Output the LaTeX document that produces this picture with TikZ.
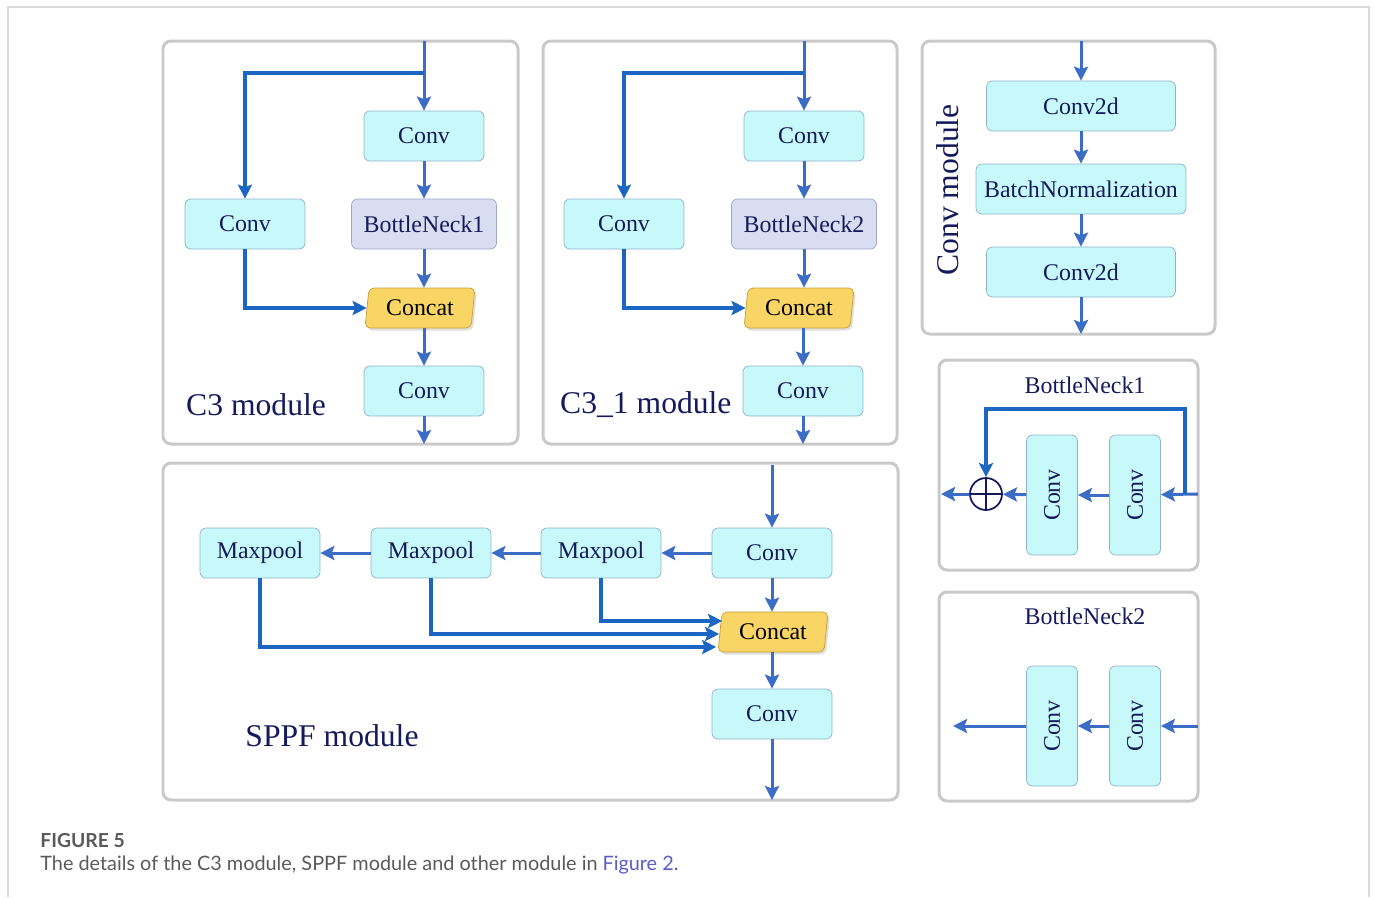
\documentclass[tikz,border=0pt]{standalone}
\usepackage{fontspec}
\setmainfont{Liberation Serif}
\newfontfamily\capfont{Lato}
\usetikzlibrary{arrows.meta,positioning,shapes.geometric,shadows}
\definecolor{navy}{HTML}{141A5C}
\definecolor{cyanfill}{HTML}{C8F9FA}
\definecolor{cyanedge}{HTML}{8FB3C9}
\definecolor{lavfill}{HTML}{D9DDF1}
\definecolor{lavedge}{HTML}{9DA7CB}
\definecolor{gold}{HTML}{F9D566}
\definecolor{goldedge}{HTML}{C79E35}
\definecolor{flowblue}{HTML}{3B6CC6}
\definecolor{skipblue}{HTML}{1A66C2}
\definecolor{panelgray}{HTML}{C9C9C9}
\definecolor{framegray}{HTML}{DADADA}
\definecolor{capgray}{HTML}{5A5A5A}
\definecolor{linkblue}{HTML}{5C5CC8}

\begin{document}
\begin{tikzpicture}[
    x=0.02cm, y=-0.02cm,
    every node/.style={font=\fontsize{13.6}{16}\selectfont, text=navy},
    layer/.style={rectangle, rounded corners=0.12cm, draw=cyanedge, fill=cyanfill,
        minimum width=2.4cm, minimum height=1cm, inner sep=0pt},
    neck/.style={layer, draw=lavedge, fill=lavfill, minimum width=2.9cm},
    vlayer/.style={layer, minimum width=2.4cm, minimum height=1.02cm, rotate=90},
    concat/.style={trapezium, trapezium left angle=76, trapezium right angle=104,
        trapezium stretches body, rounded corners=0.1cm, draw=goldedge, fill=gold,
        minimum width=2.2cm, minimum height=0.8cm, inner sep=0pt, text=black,
        drop shadow={opacity=0.25, shadow xshift=0.04cm, shadow yshift=-0.05cm}},
    panel/.style={draw=panelgray, line width=1.7pt, rounded corners=0.16cm},
    flow/.style={draw=flowblue, line width=1.7pt, -{Stealth[length=8pt, width=8pt, inset=1.5pt]}},
    skip/.style={flow, draw=skipblue, line width=1.9pt},
    title/.style={font=\fontsize{18}{22}\selectfont},
    caption/.style={anchor=west, inner sep=0pt, text=capgray},
]
\useasboundingbox (0,0) rectangle (1375,897);

% outer frame
\draw[framegray, line width=0.8pt] (8,897) -- (8,7) -- (1369,7) -- (1369,897);

% C3 module
\draw[panel] (163,41) rectangle (518,444);
\node[layer] (c3top) at (424,136) {Conv};
\node[layer] (c3side) at (245,224) {Conv};
\node[neck] (c3neck) at (424,224) {BottleNeck1};
\node[concat] (c3cat) at (420,308) {Concat};
\node[layer] (c3out) at (424,391) {Conv};
\node[title, anchor=west] (c3name) at (180,405) {C3 module};
\coordinate (c3in) at (424,41);
\coordinate (c3fork) at (424,73);
\coordinate (c3end) at (424,444);
\draw[flow] (c3in) -- (c3top);
\draw[skip] (c3fork) -| (c3side);
\draw[flow] (c3top) -- (c3neck);
\draw[flow] (c3neck) -- (c3neck |- c3cat.north);
\draw[skip] (c3side) |- (c3cat.west);
\draw[flow] (c3out |- c3cat.south) -- (c3out);
\draw[flow] (c3out) -- (c3end);

% C3_1 module
\draw[panel] (543,41) rectangle (897,444);
\node[layer] (ctop) at (804,136) {Conv};
\node[layer] (cside) at (624,224) {Conv};
\node[neck] (cneck) at (804,224) {BottleNeck2};
\node[concat] (ccat) at (799,308) {Concat};
\node[layer] (cout) at (803,391) {Conv};
\node[title, anchor=west] (cname) at (554,405) {C3\_1 module};
\coordinate (cin) at (804,41);
\coordinate (cfork) at (804,73);
\coordinate (cend) at (803,444);
\draw[flow] (cin) -- (ctop);
\draw[skip] (cfork) -| (cside);
\draw[flow] (ctop) -- (cneck);
\draw[flow] (cneck) -- (cneck |- ccat.north);
\draw[skip] (cside) |- (ccat.west);
\draw[flow] (cout |- ccat.south) -- (cout);
\draw[flow] (cout) -- (cend);

% Conv module
\draw[panel] (922,41) rectangle (1215,334);
\node[layer, minimum width=3.78cm] (cm1) at (1081,106) {Conv2d};
\node[layer, minimum width=4.2cm] (cm2) at (1081,189) {BatchNormalization};
\node[layer, minimum width=3.78cm] (cm3) at (1081,272) {Conv2d};
\node[title, rotate=90] (cmname) at (948,190) {Conv module};
\coordinate (cmin) at (1081,41);
\coordinate (cmend) at (1081,334);
\draw[flow] (cmin) -- (cm1);
\draw[flow] (cm1) -- (cm2);
\draw[flow] (cm2) -- (cm3);
\draw[flow] (cm3) -- (cmend);

% BottleNeck1
\draw[panel] (939,360) rectangle (1198,570);
\node (bn1name) at (1085,385) {BottleNeck1};
\node[vlayer] (bn1a) at (1135,495) {Conv};
\node[vlayer] (bn1b) at (1052,495) {Conv};
\node[circle, draw=navy, line width=1pt, minimum size=0.64cm, inner sep=0pt,
    path picture={\draw[navy, line width=1pt]
        (path picture bounding box.north) -- (path picture bounding box.south)
        (path picture bounding box.west) -- (path picture bounding box.east);}] (bn1add) at (986,494) {};
\coordinate (bn1in) at (1198,494);
\coordinate (bn1fork) at (1185,494);
\coordinate (bn1top) at (1185,409);
\coordinate (bn1end) at (941,494);
\draw[flow] (bn1in) -- (bn1a);
\draw[skip] (bn1fork) -- (bn1top) -| (bn1add);
\draw[flow] (bn1a) -- (bn1b);
\draw[flow] (bn1b) -- (bn1add);
\draw[flow] (bn1add) -- (bn1end);

% BottleNeck2
\draw[panel] (939,592) rectangle (1198,801);
\node (bn2name) at (1085,616) {BottleNeck2};
\node[vlayer] (bn2a) at (1135,726) {Conv};
\node[vlayer] (bn2b) at (1052,726) {Conv};
\coordinate (bn2in) at (1198,726);
\coordinate (bn2end) at (953,726);
\draw[flow] (bn2in) -- (bn2a);
\draw[flow] (bn2a) -- (bn2b);
\draw[flow] (bn2b) -- (bn2end);

% SPPF module
\draw[panel] (163,463) rectangle (898,800);
\node[layer] (spconv) at (772,553) {Conv};
\node[layer] (mp1) at (601,553) {Maxpool};
\node[layer] (mp2) at (431,553) {Maxpool};
\node[layer] (mp3) at (260,553) {Maxpool};
\node[concat] (spcat) at (773,632) {Concat};
\node[layer] (spout) at (772,714) {Conv};
\node[title] (spname) at (332,736) {SPPF module};
\coordinate (spin) at (772,465);
\coordinate (spend) at (772,800);
\draw[flow] (spin) -- (spconv);
\draw[flow] (spconv) -- (mp1);
\draw[flow] (mp1) -- (mp2);
\draw[flow] (mp2) -- (mp3);
\draw[flow] (spconv) -- (spconv |- spcat.north);
\draw[skip] (mp1) |- ([xshift=0.05cm, yshift=0.22cm]spcat.west);
\draw[skip] (mp2) |- ([xshift=-0.01cm, yshift=-0.04cm]spcat.west);
\draw[skip] (mp3) |- ([xshift=-0.07cm, yshift=-0.30cm]spcat.west);
\draw[flow] (spout |- spcat.south) -- (spout);
\draw[flow] (spout) -- (spend);

% caption
\node[caption, font=\capfont\bfseries\fontsize{11}{13}\selectfont] (fig) at (40,840) {FIGURE 5};
\node[caption, font=\capfont\fontsize{11.3}{13}\selectfont] (cap) at (40,865)
    {The details of the C3 module, SPPF module and other module in \textcolor{linkblue}{Figure 2}.};

\end{tikzpicture}
\end{document}
